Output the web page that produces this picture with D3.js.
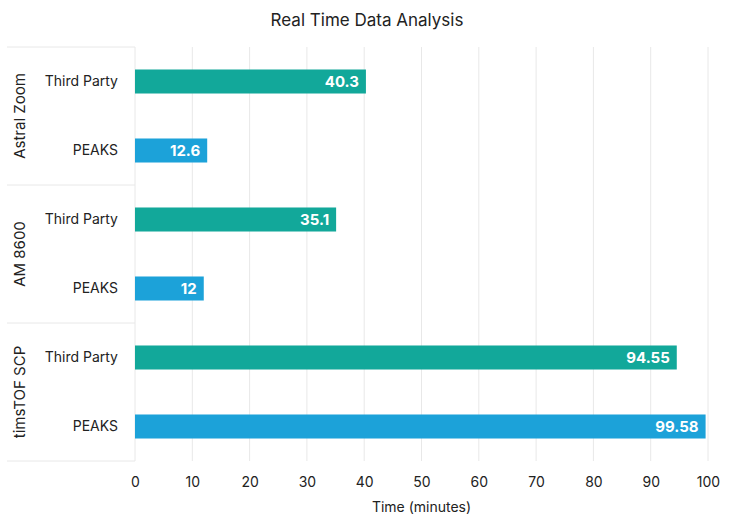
<!DOCTYPE html>
<html>
<head>
<meta charset="utf-8">
<script src="https://cdn.jsdelivr.net/npm/d3@7"></script>
<style>
  body { margin: 0; background: #fff; }
  text { font-family: Inter, "Open Sans", sans-serif; fill: #222; }
</style>
</head>
<body>
<svg></svg>
<script>
// chart data
let groups = ['Astral Zoom', 'AM 8600', 'timsTOF SCP']
let series = ['Third Party', 'PEAKS']
let thirdParty = [40.3, 35.1, 94.55]
let peaks = [12.6, 12, 99.58]
let xTicks = [0, 10, 20, 30, 40, 50, 60, 70, 80, 90, 100]
let colors = ['#12a89a', '#1ca2d9']

let width = 734
let height = 531
let plotLeft = 135, plotRight = 708, plotTop = 47, plotBottom = 461

let rows = []
groups.forEach((g, i) => {
    rows.push({group: g, series: series[0], value: thirdParty[i]})
    rows.push({group: g, series: series[1], value: peaks[i]})
})

let svg = d3.select('svg').attr('width', width).attr('height', height)

let xScale = d3.scaleLinear().domain([0, 100]).range([plotLeft, plotRight])
let groupScale = d3.scaleBand().domain(groups).range([plotTop, plotBottom])
let rowScale = d3.scaleBand().domain(series).range([0, groupScale.bandwidth()]).paddingInner(0.652).paddingOuter(0.326)

// gridlines
svg.append('g')
   .selectAll('line')
   .data(xTicks.slice(1))
   .enter()
   .append('line')
   .attr('x1', d => xScale(d)).attr('x2', d => xScale(d))
   .attr('y1', plotTop).attr('y2', plotBottom)
   .attr('stroke', '#e8e8e8')

// x axis labels
let xAxis = d3.axisBottom(xScale).tickValues(xTicks).tickSize(0).tickPadding(16)
let xg = svg.append('g')
   .attr('transform', 'translate(0,' + plotBottom + ')')
   .call(xAxis)
xg.select('.domain').remove()
xg.selectAll('text').style('font-size', '14px').style('fill', '#222').style('font-family', 'Inter, sans-serif')

// left axis frame
svg.append('line')
   .attr('x1', plotLeft).attr('x2', plotLeft).attr('y1', plotTop).attr('y2', plotBottom)
   .attr('stroke', '#e8e8e8')
svg.append('g')
   .selectAll('line')
   .data(groups.map(g => groupScale(g)).concat([plotBottom]))
   .enter()
   .append('line')
   .attr('x1', 7).attr('x2', plotLeft)
   .attr('y1', d => d).attr('y2', d => d)
   .attr('stroke', '#e8e8e8')

// group labels
svg.append('g')
   .selectAll('text')
   .data(groups)
   .enter()
   .append('text')
   .attr('transform', d => 'translate(25,' + (groupScale(d) + groupScale.bandwidth() / 2) + ') rotate(-90)')
   .attr('text-anchor', 'middle')
   .style('font-size', '15px')
   .text(d => d)

// series labels
svg.append('g')
   .selectAll('text')
   .data(rows)
   .enter()
   .append('text')
   .attr('x', 118)
   .attr('y', d => groupScale(d.group) + rowScale(d.series) + rowScale.bandwidth() / 2)
   .attr('dy', '0.35em')
   .attr('text-anchor', 'end')
   .style('font-size', '14px')
   .text(d => d.series)

// bars
svg.append('g')
   .selectAll('rect')
   .data(rows)
   .enter()
   .append('rect')
   .attr('x', xScale(0))
   .attr('y', d => groupScale(d.group) + rowScale(d.series))
   .attr('width', d => xScale(d.value) - xScale(0))
   .attr('height', rowScale.bandwidth())
   .attr('fill', d => colors[series.indexOf(d.series)])

// value labels
svg.append('g')
   .selectAll('text')
   .data(rows)
   .enter()
   .append('text')
   .attr('x', d => xScale(d.value) - 7)
   .attr('y', d => groupScale(d.group) + rowScale(d.series) + rowScale.bandwidth() / 2)
   .attr('dy', '0.36em')
   .attr('text-anchor', 'end')
   .style('font-size', '15px')
   .style('font-weight', 'bold')
   .style('fill', '#fff')
   .text(d => d.value)

// title
svg.append('text')
   .attr('x', width / 2).attr('y', 26)
   .attr('text-anchor', 'middle')
   .style('font-size', '17px')
   .text('Real Time Data Analysis')

// x axis title
svg.append('text')
   .attr('x', (plotLeft + plotRight) / 2).attr('y', 512)
   .attr('text-anchor', 'middle')
   .style('font-size', '14px')
   .text('Time (minutes)')
</script>
</body>
</html>
